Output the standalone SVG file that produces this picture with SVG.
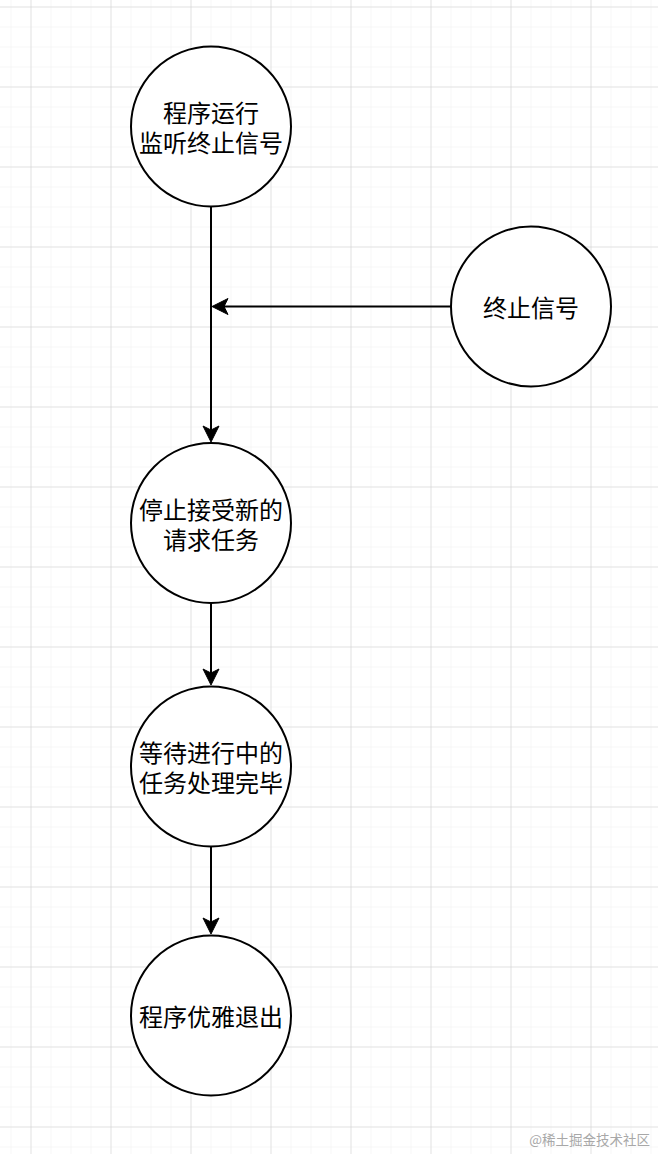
<svg xmlns="http://www.w3.org/2000/svg" width="658" height="1154" viewBox="0 0 658 1154">
  <defs>
    <pattern id="minor" x="10.5" y="6.5" width="20" height="20" patternUnits="userSpaceOnUse">
      <path d="M0,0 H20 M0,0 V20" fill="none" stroke="#efefef" stroke-width="1"/>
    </pattern>
    <pattern id="major" x="30.5" y="6.5" width="80" height="80" patternUnits="userSpaceOnUse">
      <path d="M0,0 H80 M0,0 V80" fill="none" stroke="#d0d0d0" stroke-width="1"/>
    </pattern>
    <marker id="arrow" viewBox="-12 -12 24 24" markerWidth="24" markerHeight="24" refX="0" refY="0" orient="auto" markerUnits="userSpaceOnUse">
      <path d="M8,0 L-8,-8 L-4,0 L-8,8 Z" fill="#000" stroke="#000" stroke-width="1"/>
    </marker>
    <style>
      .node circle { fill: #ffffff; stroke: #000000; stroke-width: 2; }
      .node text { font-family: "Noto Sans CJK SC", "Noto Sans", sans-serif; font-size: 24px; fill: #000; text-anchor: middle; dominant-baseline: central; }
      .edge { fill: none; stroke: #000; stroke-width: 2; marker-end: url(#arrow); }
      .wm { font-family: "Noto Sans CJK SC", sans-serif; font-size: 13.5px; fill: #a8a8a8; text-anchor: end; }
    </style>
  </defs>
  <rect width="658" height="1154" fill="#ffffff"/>
  <rect width="658" height="1154" fill="url(#minor)"/>
  <rect width="658" height="1154" fill="url(#major)"/>

  <g id="connectors">
    <path class="edge" d="M211,206.5 V434"/>
    <path class="edge" d="M451,306.5 H220"/>
    <path class="edge" d="M211,603 V677"/>
    <path class="edge" d="M211,846.5 V926"/>
  </g>

  <g id="node-start" class="node">
    <circle cx="211" cy="126.5" r="80"/>
    <text x="211" y="111.5">程序运行</text>
    <text x="211" y="141.5">监听终止信号</text>
  </g>
  <g id="node-signal" class="node">
    <circle cx="531" cy="306.5" r="80"/>
    <text x="531" y="306.5">终止信号</text>
  </g>
  <g id="node-stop" class="node">
    <circle cx="211" cy="523" r="80"/>
    <text x="211" y="508">停止接受新的</text>
    <text x="211" y="538">请求任务</text>
  </g>
  <g id="node-wait" class="node">
    <circle cx="211" cy="766.5" r="80"/>
    <text x="211" y="751.5">等待进行中的</text>
    <text x="211" y="781.5">任务处理完毕</text>
  </g>
  <g id="node-exit" class="node">
    <circle cx="211" cy="1015.5" r="80"/>
    <text x="211" y="1015.5">程序优雅退出</text>
  </g>

  <text class="wm" x="650" y="1145">@稀土掘金技术社区</text>
</svg>
